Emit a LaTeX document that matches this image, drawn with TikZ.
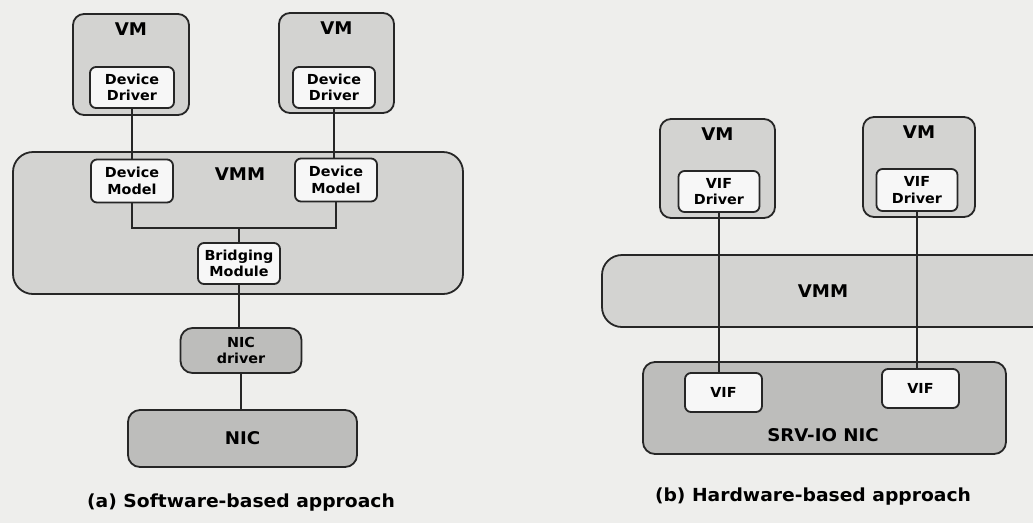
\documentclass[tikz,border=0pt]{standalone}
\usepackage{fontspec}
\setmainfont{DejaVu Sans}[FakeStretch=1.04]
\begin{document}
\begin{tikzpicture}[x=1pt,y=-1pt,
  every node/.style={font=\bfseries},
  vmbox/.style={draw=black!85,line width=1.8pt,fill=vmgray,rounded corners=11pt,inner sep=0pt},
  layerbox/.style={draw=black!85,line width=1.8pt,fill=vmgray,rounded corners=20pt,inner sep=0pt},
  nicbox/.style={draw=black!85,line width=1.8pt,fill=nicgray,rounded corners=12pt,inner sep=0pt},
  inbox/.style={draw=black!85,line width=1.8pt,fill=white!97!black,rounded corners=6pt,inner sep=0pt,
                align=center,font=\bfseries\fontsize{13.8}{16.5}\selectfont},
  title/.style={font=\bfseries\fontsize{17.5}{20}\selectfont},
  caption/.style={font=\bfseries\fontsize{18}{20}\selectfont},
  wire/.style={draw=black!85,line width=2pt}]
\definecolor{vmgray}{HTML}{D3D3D1}
\definecolor{nicgray}{HTML}{BDBDBB}
\definecolor{paper}{HTML}{EEEEEC}

\useasboundingbox (0,0) rectangle (1033,523);
\clip (0,0) rectangle (1033,523);
\fill[paper] (0,0) rectangle (1033,523);

% ---------- (a) software-based approach ----------
\node[vmbox,minimum width=116pt,minimum height=101pt,
      label={[title,anchor=north,inner sep=9pt]north:VM}] (vm1) at (131,64.5) {};
\node[vmbox,minimum width=115pt,minimum height=100pt,
      label={[title,anchor=north,inner sep=9pt]north:VM}] (vm2) at (336.5,63) {};
\node[inbox,minimum width=84pt,minimum height=41pt] (dd1) at (132,87.5) {Device\\Driver};
\node[inbox,minimum width=82pt,minimum height=41pt] (dd2) at (334,87.5) {Device\\Driver};

\node[layerbox,minimum width=450pt,minimum height=142pt] (vmmA) at (238,223) {};
\node[title] (vmmAl) at (240,174) {VMM};
\node[inbox,minimum width=82pt,minimum height=43pt] (dm1) at (132,181) {Device\\Model};
\node[inbox,minimum width=82pt,minimum height=43pt] (dm2) at (336,180) {Device\\Model};
\node[inbox,minimum width=82pt,minimum height=41pt] (br) at (239,263.5) {Bridging\\Module};

\node[nicbox,minimum width=121pt,minimum height=45pt,align=center,
      font=\bfseries\fontsize{13.8}{16.5}\selectfont] (nd) at (241,350.5) {NIC\\driver};
\node[nicbox,minimum width=229pt,minimum height=57pt,title] (nic) at (242.5,438.5) {NIC};

\coordinate (jn) at (239,228);
\draw[wire] (dd1.south) -- (dd1.south |- dm1.north);
\draw[wire] (dd2.south) -- (dd2.south |- dm2.north);
\draw[wire] (dm1.south) |- (jn) -| (dm2.south);
\draw[wire] (jn) -- (br.north);
\draw[wire] (br.south) -- (br.south |- nd.north);
\draw[wire] (nd.south) -- (nd.south |- nic.north);

\node[caption] (capa) at (241,503) {(a) Software-based approach};

% ---------- (b) hardware-based approach ----------
\node[vmbox,minimum width=115pt,minimum height=99pt,
      label={[title,anchor=north,inner sep=9pt]north:VM}] (vm3) at (717.5,168.5) {};
\node[vmbox,minimum width=112pt,minimum height=100pt,
      label={[title,anchor=north,inner sep=9pt]north:VM}] (vm4) at (919,167) {};
\node[inbox,minimum width=81pt,minimum height=41pt] (vd1) at (719,191.5) {VIF\\Driver};
\node[inbox,minimum width=81pt,minimum height=42pt] (vd2) at (917,190) {VIF\\Driver};

\node[layerbox,minimum width=458pt,minimum height=72pt] (vmmB) at (831,291) {};
\node[title] (vmmBl) at (823,291) {VMM};

\node[nicbox,minimum width=363pt,minimum height=92pt] (srv) at (824.5,408) {};
\node[title] (srvl) at (823,435) {SRV-IO NIC};
\node[inbox,minimum width=77pt,minimum height=39pt] (vif1) at (723.5,392.5) {VIF};
\node[inbox,minimum width=77pt,minimum height=39pt] (vif2) at (920.5,388.5) {VIF};

\draw[wire] (vd1.south) -- (vd1.south |- vif1.north);
\draw[wire] (vd2.south) -- (vd2.south |- vif2.north);

\node[caption] (capb) at (813,497) {(b) Hardware-based approach};
\end{tikzpicture}
\end{document}
